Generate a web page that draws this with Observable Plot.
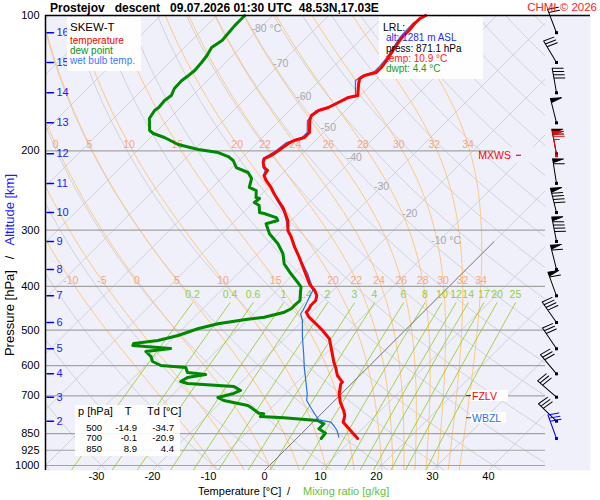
<!DOCTYPE html>
<html>
<head>
<meta charset="utf-8">
<script src="https://cdn.jsdelivr.net/npm/d3@7"></script>
<script src="https://cdn.jsdelivr.net/npm/@observablehq/plot@0.6"></script>
<style>
  html, body { margin: 0; padding: 0; background: #ffffff; }
  #chart { width: 600px; height: 500px; }
</style>
</head>
<body>
<div id="chart"></div>
<script>
// ---------------- data ----------------
const pressureTicks = [100, 200, 300, 400, 500, 600, 700, 850, 925, 1000];
const isobars = [200, 300, 400, 500, 600, 700, 850, 925, 1000];
const tempTicks = [-30, -20, -10, 0, 10, 20, 30, 40];
const kmLevels = [16, 15, 14, 13, 12, 11, 10, 9, 8, 7, 6, 5, 4, 3, 2];
const kmPressure = [109.2, 127.2, 148.5, 173.2, 203.0, 236.1, 274.1, 317.8, 366.7, 419.7, 481.2, 550.4, 625.6, 705.0, 797.0];

const tempP = [100,101.6,104.2,108.0,111.9,117.8,124.0,130.5,133.9,135.9,
  138.0,141.6,150.6,152.1,156.1,160.1,162.6,166.8,171.2,182.0,
  186.7,189.6,192.5,199.5,204.7,207.9,212.2,217.7,221.0,226.8,
  232.7,241.1,248.7,257.7,267.1,
  285.5,300.5,310.9,327.3,344.4,368.7,394.7,408.4,419.0,429.9,
  441.0,448.5,456.4,468.2,484.3,501.2,522.9,545.9,589.5,604.7,
  631.0,653.0,658.3,692.9,723.3,754.7,774.3,801.3,836.0,871.1];
const tempT = [-52.7,-53.2,-53.2,-53.0,-53.0,-52.5,-51.8,-51.3,-51.3,-52.9,
  -53.2,-52.5,-50.5,-51.8,-52.7,-53.6,-54.8,-55.2,-54.6,-52.5,
  -52.5,-53.8,-54.3,-54.8,-55.2,-55.9,-55.4,-54.3,-53.2,-52.9,
  -51.6,-49.5,-47.9,-45.9,-43.8,
  -40.6,-38.8,-37.0,-34.6,-32.0,-28.7,-25.4,-23.3,-22.0,-21.3,
  -21.3,-21.0,-20.9,-19.5,-17.1,-14.7,-12.0,-10.2,-7.0,-5.8,
  -4.0,-1.9,-1.9,-0.4,1.3,3.4,4.5,5.4,8.2,10.9];

const dewP = [100,102.6,105.3,109.1,113.6,117.8,122.7,127.2,132.5,135.9,
  139.5,145.3,150.6,154.5,160.1,162.6,169.4,180.1,182.9,186.7,
  193.5,198.5,201.6,205.8,210.0,217.7,223.3,230.3,241.1,244.9,
  253.8,255.1,260.4,264.4,274.0,275.4,281.2,
  285.5,290.3,305.6,321.6,338.5,356.3,375.0,391.5,401.6,412.0,
  429.9,441.0,448.5,456.4,468.2,473.7,484.3,496.8,514.2,527.5,
  535.6,541.2,549.5,558.1,572.5,587.3,599.5,605.6,621.4,627.8,
  637.5,650.6,657.3,667.5,681.3,691.8,706.2,717.1,735.6,
  742.1,765.2,767.6,778.3,783.4,794.3,807.9,828.8,847.6,871.1];
const dewT = [-85.0,-85.0,-85.0,-84.8,-84.6,-85.2,-84.6,-84.3,-84.1,-84.3,
  -84.6,-84.5,-83.8,-84.1,-83.9,-84.1,-83.6,-81.4,-80.2,-77.5,
  -73.8,-69.3,-65.2,-62.7,-61.1,-59.3,-56.3,-54.6,-53.4,-51.6,
  -50.4,-49.6,-49.8,-48.4,-47.1,-46.1,-43.2,
  -42.4,-43.9,-41.5,-38.2,-35.5,-33.5,-30.5,-27.8,-26.3,-25.5,
  -24.1,-24.2,-24.2,-24.8,-27.5,-30.4,-34.6,-37.3,-39.6,-42.3,
  -46.1,-45.9,-38.6,-42.5,-40.7,-39.5,-37.3,-32.5,-31.3,-27.7,
  -30.4,-30.9,-29.3,-20.5,-18.6,-19.3,-21.4,-19.8,-14.6,
  -13.8,-11.3,-10.3,-10.4,-6.0,0.5,2.25,2.25,4.2,4.4];

const wbP = [100,104.2,111.9,124.0,130.5,133.2,135.9,139.5,150.6,152.1,
  160.1,162.6,171.2,182.0,186.7,191.5,199.5,207.9,212.2,217.7,
  221.0,226.8,232.7,241.1,257.7,274.0,
  285.5,300.5,316.2,338.5,356.3,375.0,394.7,408.4,419.0,437.2,
  452.4,460.2,476.2,518.7,564.7,604.7,647.3,692.9,717.1,742.1,
  774.3,791.5,801.3,814.9,836.0,865.2];
const wbT = [-53.0,-53.6,-53.4,-52.1,-51.8,-51.8,-53.2,-53.6,-50.9,-52.1,
  -53.9,-55.2,-55.0,-52.9,-52.9,-54.8,-55.2,-56.1,-55.5,-54.5,
  -53.6,-53.0,-51.8,-49.6,-46.1,-42.7,
  -40.9,-38.8,-36.1,-32.9,-30.2,-27.5,-25.1,-23.6,-23.2,-22.4,
  -21.8,-21.6,-20.1,-17.1,-13.9,-11.4,-8.75,-6.1,-5.0,-3.1,
  -0.7,0.6,3.2,4.3,5.8,7.3];

const windP = [109.2, 127.2, 148.5, 173.2, 203.0, 236.1, 274.1, 317.8, 366.7, 419.7, 481.2, 550.4, 625.6, 705.0, 797.0, 871.1];
const windDir = [339, 329, 350, 346, 349, 351, 346, 349, 346, 340, 325, 326, 320, 311, 314, 340];
const windSpeed = [20, 30, 40, 50, 60, 60, 90, 90, 60, 60, 40, 30, 30, 30, 30, 30];
const mxwsP = 205, mxwsDir = 351, mxwsSpeed = 65;

const lrlAlt = 1281, lrlPress = 871.1, lrlTemp = 10.9, lrlDwpt = 4.4;
const tableP = [500, 700, 850];
const tableT = [-14.9, -0.1, 8.9];
const tableTd = [-34.7, -20.9, 4.4];
const fzlvP = 701, wbzlP = 785;

const mixRatios = [0.2, 0.4, 0.6, 1, 1.4, 2, 3, 4, 6, 8, 10, 12, 14, 17, 20, 25];
const moistThetaW = [-10, -5, 0, 5, 10, 15, 20, 22, 24, 26, 28, 30, 32, 34];
const isoLabelT = [-80, -70, -60, -50, -40, -30, -20, -10];

// ---------------- chart geometry ----------------
const SKEW = 35, PBOT = 1026, PTOP = 100;
const X0 = -40, X1 = 57.32, XR = 49.29;
const BG = "#f0f0fa";
const sk = (T, p) => T + SKEW * Math.log(1000 / p);
const logSpan = (a, b, n) => d3.range(n + 1).map(i => a * Math.pow(b / a, i / n));
const pg = logSpan(PBOT, PTOP, 90);

function esat(Tc) { return 6.112 * Math.exp(17.67 * Tc / (Tc + 243.5)); }
function thetaE(TK, p) {
  const e = esat(TK - 273.15);
  if (e >= 0.6 * p) return Infinity;
  const r = 622 * e / (p - e);
  return TK * Math.pow(1000 / p, 0.2854 * (1 - 0.00028 * r)) * Math.exp((3.376 / TK - 0.00254) * r * (1 + 0.00081 * r));
}
function moistT(tw, p) {
  const te = thetaE(tw + 273.15, 1000);
  let lo = 120, hi = 345;
  for (let k = 0; k < 50; k++) { const m = (lo + hi) / 2; if (thetaE(m, p) > te) hi = m; else lo = m; }
  return (lo + hi) / 2 - 273.15;
}
function tdW(w, p) { const e = w * p / (622 + w); const a = Math.log(e / 6.112); return 243.5 * a / (17.67 - a); }

const isotherms = d3.range(-120, 51, 10);
const dryData = d3.range(-40, 241, 10).flatMap(th => pg.map(p => ({k: th, p, X: sk((th + 273.15) * Math.pow(p / 1000, 0.2857) - 273.15, p)})));
const moistData = moistThetaW.flatMap(tw => pg.map(p => ({k: tw, p, X: sk(moistT(tw, p), p)})));
const MIXTOP = 435;
const mixData = mixRatios.flatMap(w => logSpan(PBOT, MIXTOP, 20).map(p => ({k: w, p, X: sk(tdW(w, p), p)})));
const mixLabels = mixRatios.map(w => ({p: MIXTOP, X: sk(tdW(w, MIXTOP), MIXTOP), t: String(w)}));
const moistLabels = [];
for (const lp of [193.5, 387.6]) for (const tw of moistThetaW) {
  const X = sk(moistT(tw, lp), lp);
  if (X > X0 + 1.5 && X < XR - 1.5) moistLabels.push({p: lp, X, t: String(tw)});
}
const isoLabels = isoLabelT.map(T => { const p = 1000 * Math.pow((T + 273.15) / 365.7, 1 / 0.2857); return {p, X: sk(T, p), t: String(T), unit: (T === -80 || T === -10)}; });

const prof = (P, T) => d3.range(P.length).map(i => ({p: P[i], X: sk(T[i], P[i])}));

const lineShape = {draw(ctx, l) { ctx.moveTo(0, 0); ctx.lineTo(0, -l); }};
function barbShape(speed) {
  return {draw(ctx) {
    const L = 25, fl = 11, fx = fl * 0.985, fy = fl * 0.174;
    ctx.moveTo(0, 0); ctx.lineTo(0, -L);
    let s = Math.round(speed / 5) * 5, y = -L;
    while (s >= 50) { ctx.moveTo(0, y); ctx.lineTo(fx, y + fy); ctx.lineTo(0, y + 4); ctx.closePath(); y += 5; s -= 50; }
    while (s >= 10) { ctx.moveTo(0, y); ctx.lineTo(fx, y + fy); y += 3.3; s -= 10; }
    if (s >= 5) { ctx.moveTo(0, y); ctx.lineTo(fx / 2, y + fy / 2); }
  }};
}
const barbs = windP.map((p, i) => ({p, dir: windDir[i], spd: windSpeed[i], color: i === windP.length - 1 ? "#0000ff" : "black"}));
barbs.push({p: mxwsP, dir: mxwsDir, spd: mxwsSpeed, color: "#ff0000"});
const barbMarks = barbs.flatMap(b => [
  Plot.vector([b], {y: "p", rotate: b.dir, length: 25, anchor: "start", shape: barbShape(b.spd), frameAnchor: "right", dx: -34, stroke: b.color, fill: b.color, strokeWidth: 1}),
  Plot.dot([b], {y: "p", frameAnchor: "right", dx: -34, symbol: "square", r: 1.7, fill: b.color})
]);

const FONT = "'Liberation Sans', Arial, sans-serif";
const plot = Plot.plot({
  width: 600, height: 500,
  marginLeft: 45, marginRight: 10, marginTop: 15, marginBottom: 30,
  style: {fontFamily: FONT, background: "#ffffff", overflow: "visible"},
  x: {domain: [X0, X1], range: [45, 590], axis: null},
  y: {type: "log", domain: [PTOP, PBOT], range: [15, 470], axis: null},
  marks: [
    Plot.frame({fill: BG, stroke: "none"}),
    Plot.link(isotherms, {x1: T => sk(T, PBOT), y1: () => PBOT, x2: T => sk(T, PTOP), y2: () => PTOP, stroke: "#c9c9cf", strokeWidth: 0.8, clip: true}),
    Plot.line(dryData, {x: "X", y: "p", z: "k", stroke: "#c9c9cf", strokeWidth: 0.8, clip: true}),
    Plot.line(moistData, {x: "X", y: "p", z: "k", stroke: "#ffc880", strokeWidth: 1, clip: true}),
    Plot.line(mixData, {x: "X", y: "p", z: "k", stroke: "#9acd32", strokeWidth: 0.9, clip: true}),
    Plot.link([0], {x1: T => sk(T, PBOT), y1: () => PBOT, x2: T => sk(T, 318), y2: () => 318, stroke: "#666666", strokeWidth: 0.8}),
    Plot.rect([0], {x1: XR, x2: X1, y1: PTOP, y2: PBOT, fill: BG}),
    Plot.ruleY(isobars, {x1: X0, x2: XR, stroke: "#a3a3a3", strokeWidth: 1.2}),
    Plot.text(isoLabels.filter(d => !d.unit), {x: "X", y: "p", text: "t", fill: "#a8a8a8", fontSize: 10.5}),
    Plot.text(isoLabels.filter(d => d.unit), {x: "X", y: "p", text: d => d.t + " °C", textAnchor: "start", dx: -8, fill: "#a8a8a8", fontSize: 10.5}),
    Plot.text(moistLabels, {x: "X", y: "p", text: "t", fill: "#f5a585", fontSize: 10.5}),
    Plot.text(mixLabels, {x: "X", y: "p", text: "t", dy: -8, fill: "#8fd040", fontSize: 10.5}),
    Plot.line(prof(dewP, dewT), {x: "X", y: "p", stroke: "#008800", strokeWidth: 3, strokeLinejoin: "round", className: "prof-first"}),
    Plot.line(prof(wbP, wbT), {x: "X", y: "p", stroke: "#2a6fe8", strokeWidth: 1.2, strokeLinejoin: "round"}),
    Plot.line(prof(tempP, tempT), {x: "X", y: "p", stroke: "#ff0000", strokeWidth: 3, strokeLinejoin: "round"}),
    Plot.ruleY([PTOP], {stroke: "black", strokeWidth: 1.5}),
    Plot.ruleX([X0], {stroke: "black", strokeWidth: 1.5}),
    Plot.text(pressureTicks, {y: d => d, text: d => String(d), frameAnchor: "left", dx: -6, textAnchor: "end", fontSize: 11, fill: "black"}),
    Plot.vector(kmPressure, {y: d => d, frameAnchor: "left", dx: 1.5, rotate: 90, length: 6.5, anchor: "start", shape: lineShape, stroke: "#0000ee", strokeWidth: 1.5}),
    Plot.text(kmLevels, {y: (d, i) => kmPressure[i], text: d => String(d), frameAnchor: "left", dx: 11, textAnchor: "start", fontSize: 11, fill: "#1a1aff"}),
    Plot.text(tempTicks, {x: t => t + SKEW * Math.log(1000 / PBOT), text: d => String(d), frameAnchor: "bottom", dy: 9, fontSize: 11, fill: "black"}),
    ...barbMarks
  ]
});
document.getElementById("chart").appendChild(plot);

// ---------------- annotations ----------------
const svg = d3.select(plot);
const fy = v => plot.scale("y").apply(v);
function txt(x, y, s, o = {}) {
  return svg.append("text").attr("x", x).attr("y", y)
    .attr("font-size", o.size || 11).attr("fill", o.fill || "black")
    .attr("text-anchor", o.anchor || "start").attr("font-weight", o.weight || "normal")
    .style("white-space", "pre").style("font-family", FONT).text(s);
}
function box(x, y, w, h, fill, op = 1) {
  return svg.append("rect").attr("x", x).attr("y", y).attr("width", w).attr("height", h).attr("fill", fill).attr("fill-opacity", op);
}
function seg(x1, x2, y, color) {
  svg.append("line").attr("x1", x1).attr("x2", x2).attr("y1", y).attr("y2", y).attr("stroke", color).attr("stroke-width", 1.2);
}

// title
txt(50, 12, "Prostejov   descent   09.07.2026 01:30 UTC  48.53N,17.03E", {size: 12, weight: "bold"});
txt(597, 11, "CHMI © 2026", {size: 11.5, fill: "#ff2020", anchor: "end"});

// legend box
box(67, 17, 74, 54, "#ffffff", 0.92);
txt(70, 30.5, "SKEW-T", {size: 11.5});
txt(70, 44, "temperature", {size: 10, fill: "#ff0000"});
txt(70, 54, "dew point", {size: 10, fill: "#109010"});
txt(70, 64, "wet bulb temp.", {size: 10, fill: "#3a78ff"});

// LRL box (drawn beneath the sounding lines)
svg.insert("rect", ".prof-first").attr("x", 379).attr("y", 17).attr("width", 104).attr("height", 62)
  .attr("fill", "#ffffff").attr("fill-opacity", 0.92);
txt(383, 30.5, "LRL:", {size: 10.5});
txt(386, 41.3, `alt: ${lrlAlt} m ASL`, {size: 10, fill: "#2a2aff"});
txt(386, 51.6, `press: ${lrlPress.toFixed(1)} hPa`, {size: 10});
txt(386, 61.9, `temp: ${lrlTemp.toFixed(1)} °C`, {size: 10, fill: "#ff1a1a"});
txt(386, 72.2, `dwpt: ${lrlDwpt.toFixed(1)} °C`, {size: 10, fill: "#1a9a1a"});

// table
box(75, 405, 105, 51, "#ffffff", 0.9);
txt(78, 415, "p [hPa]", {size: 11});
txt(128, 415, "T", {size: 11, anchor: "middle"});
txt(147, 415, "Td [°C]", {size: 11});
tableP.forEach((p, i) => {
  const yb = 430.5 + i * 10.5;
  txt(102, yb, String(p), {size: 9.5, anchor: "end"});
  txt(137, yb, tableT[i].toFixed(1), {size: 9.5, anchor: "end"});
  txt(174, yb, tableTd[i].toFixed(1), {size: 9.5, anchor: "end"});
});

// FZLV / WBZL / MXWS
const yf = fy(fzlvP), yw = fy(wbzlP), ym = fy(mxwsP);
box(470, yf - 5.5, 38, 11, "#ffffff");
seg(466, 471, yf, "#ff0000");
txt(472, yf + 4, "FZLV", {size: 10.5, fill: "#ff0000"});
box(470, yw - 5.5, 36, 11, "#ffffff");
seg(466, 471, yw, "#2a6fe8");
txt(472, yw + 4, "WBZL", {size: 10.5, fill: "#2a6fe8"});
box(495, ym - 8, 50, 15, BG);
txt(511, ym + 3.5, "MXWS", {size: 10.5, fill: "#ff0000", anchor: "end"});
seg(516, 521, ym, "#ff0000");

// axis titles
const yt = svg.append("text").attr("transform", "translate(14,265) rotate(-90)").attr("text-anchor", "middle")
  .attr("font-size", 13).style("white-space", "pre").style("font-family", FONT);
yt.append("tspan").attr("fill", "black").text("Pressure [hPa]   /   ");
yt.append("tspan").attr("fill", "#1a1aff").text("Altitude [km]");
txt(198, 495, "Temperature [°C]", {size: 11});
txt(287, 495, "/", {size: 11});
txt(303, 495, "Mixing ratio [g/kg]", {size: 11, fill: "#66c23a"});
</script>
</body>
</html>
